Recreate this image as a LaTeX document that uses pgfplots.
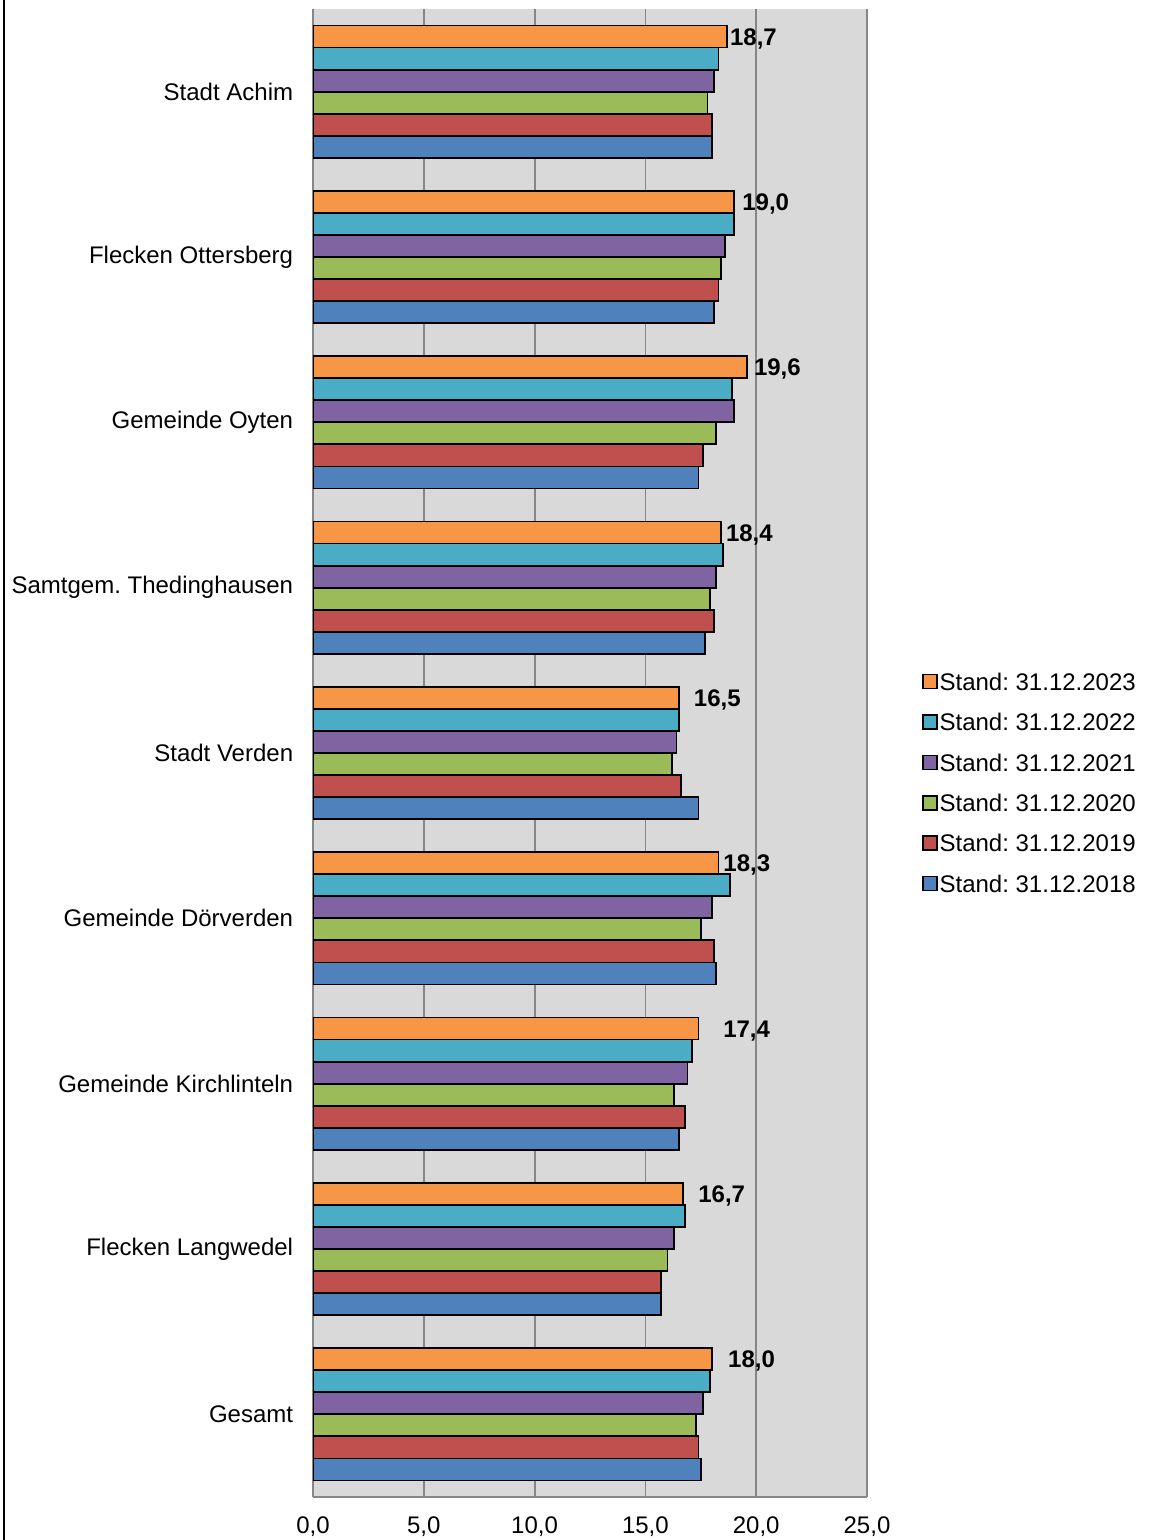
\documentclass[border=0pt]{standalone}
\usepackage{fontspec}
\setmainfont{Liberation Sans}
\usepackage{pgfplots}
\usepackage{pgfplotstable}
\pgfplotsset{compat=1.18}

\definecolor{c2023}{HTML}{F79646}
\definecolor{c2022}{HTML}{4BACC6}
\definecolor{c2021}{HTML}{8064A2}
\definecolor{c2020}{HTML}{9BBB59}
\definecolor{c2019}{HTML}{C0504D}
\definecolor{c2018}{HTML}{4F81BD}
\definecolor{plotbg}{HTML}{D9D9D9}
\definecolor{gridc}{HTML}{868686}

% pos 8 = Stadt Achim (oben), pos 0 = Gesamt (unten)
% dx = Abstand des Wertelabels hinter dem Balken (pt)
\pgfplotstableread{
pos y2018 y2019 y2020 y2021 y2022 y2023 lbl  dx
8   18.0  18.0  17.8  18.1  18.3  18.7  18,7 0.9
7   18.1  18.3  18.4  18.6  19.0  19.0  19,0 3.7
6   17.4  17.6  18.2  19.0  18.9  19.6  19,6 2.9
5   17.7  18.1  17.9  18.2  18.5  18.4  18,4 2.2
4   17.4  16.6  16.2  16.4  16.5  16.5  16,5 7.2
3   18.2  18.1  17.5  18.0  18.8  18.3  18,3 2.0
2   16.5  16.8  16.3  16.9  17.1  17.4  17,4 11.9
1   15.7  15.7  16.0  16.3  16.8  16.7  16,7 7.2
0   17.5  17.4  17.3  17.6  17.9  18.0  18,0 7.7
}\anteil

\begin{document}
\frenchspacing
\fontsize{12pt}{14pt}\selectfont
\begin{tikzpicture}[font=\fontsize{12pt}{14pt}\selectfont]
  \useasboundingbox (0,0) rectangle (588pt,770pt);
  \draw[black, line width=1pt] (2pt,0) -- (2pt,770pt);
  \begin{axis}[
      at={(156.5pt,21.5pt)}, anchor=south west,
      scale only axis, width=277pt, height=744pt,
      xbar=0pt, bar width=0.13333,
      enlargelimits=false,
      xmin=0, xmax=25, ymin=-0.5, ymax=8.5,
      xtick={0,5,...,25}, ytick={0,...,8},
      yticklabels={Gesamt, Flecken Langwedel, Gemeinde Kirchlinteln,
        Gemeinde Dörverden, Stadt Verden, Samtgem. Thedinghausen,
        Gemeinde Oyten, Flecken Ottersberg, Stadt Achim},
      axis background/.style={fill=plotbg},
      axis x line*=bottom, axis y line*=left,
      axis line style={draw=gridc, line width=1pt, -},
      xmajorgrids, major grid style={draw=gridc, line width=0.9pt},
      major tick length=0pt,
      tick label style={font=\fontsize{12pt}{14pt}\selectfont},
      /pgf/number format/assume math mode=true,
      xticklabel style={inner sep=0pt, yshift=-9.5pt,
        /pgf/number format/.cd, fixed, fixed zerofill, precision=1, use comma},
      yticklabel style={inner sep=0pt, xshift=-9.75pt},
      every axis plot/.append style={draw=black, line width=0.9pt},
      legend style={at={(1.0993,0.5545)}, anchor=north west,
        draw=none, fill=none, inner sep=0pt, row sep=8.7pt, column sep=0.8pt,
        nodes={inner sep=0pt, text height=9pt, text depth=2.5pt},
        font=\fontsize{12pt}{14pt}\selectfont},
      legend cell align=left, reverse legend,
      legend image code/.code={\draw[#1, line width=0.8pt] (0pt,-2.45pt) rectangle (7pt,4.55pt);},
    ]

    \addplot[fill=c2018, bar shift=-0.33333] table[x=y2018, y=pos] {\anteil};
    \addplot[fill=c2019, bar shift=-0.2] table[x=y2019, y=pos] {\anteil};
    \addplot[fill=c2020, bar shift=-0.06667] table[x=y2020, y=pos] {\anteil};
    \addplot[fill=c2021, bar shift=0.06667] table[x=y2021, y=pos] {\anteil};
    \addplot[fill=c2022, bar shift=0.2] table[x=y2022, y=pos] {\anteil};
    \addplot[fill=c2023, bar shift=0.33333,
      point meta=explicit symbolic, nodes near coords,
      visualization depends on={\thisrow{dx} \as \dx},
      every node near coord/.append style={anchor=base west, inner sep=0pt,
        xshift=\dx pt, yshift=-4.3pt,
        font=\fontsize{12pt}{14pt}\selectfont\bfseries}]
      table[x=y2023, y=pos, meta=lbl] {\anteil};

    \legend{Stand: 31.12.2018, Stand: 31.12.2019, Stand: 31.12.2020,
      Stand: 31.12.2021, Stand: 31.12.2022, Stand: 31.12.2023}
  \end{axis}
\end{tikzpicture}
\end{document}
